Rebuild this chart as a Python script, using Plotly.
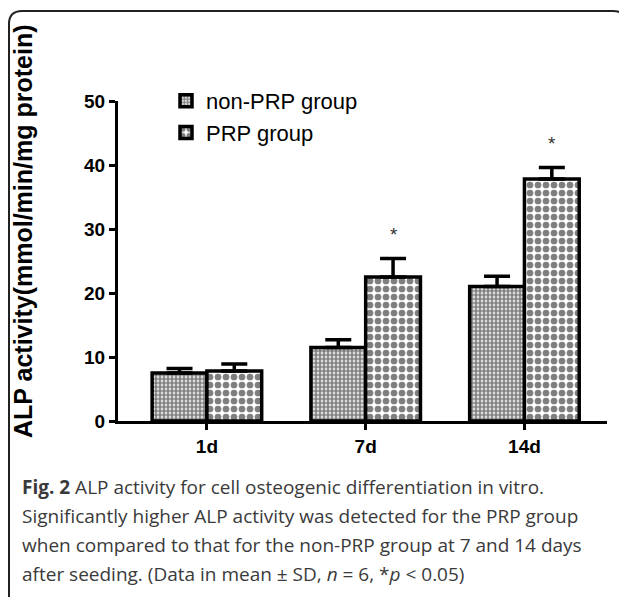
import plotly.graph_objects as go

categories = ["1d", "7d", "14d"]
non_prp_mean = [7.5, 11.5, 21.0]
non_prp_sd = [0.7, 1.2, 1.6]
prp_mean = [7.8, 22.5, 37.8]
prp_sd = [1.1, 2.9, 1.8]
significant = ["", "*", "*"]
y_ticks = [0, 10, 20, 30, 40, 50]
caption_lines = [
    "<b>Fig. 2</b> ALP activity for cell osteogenic differentiation in vitro.",
    "Significantly higher ALP activity was detected for the PRP group",
    "when compared to that for the non-PRP group at 7 and 14 days",
    "after seeding. (Data in mean ± SD, <i>n</i> = 6, *<i>p</i> &lt; 0.05)",
]

# page body has an 8px margin; work in window pixels and shift
OFF = 8
W, H = 627 - OFF, 597 - OFF
L, R, T, B = 118 - OFF, 607 - OFF, 101 - OFF, 421 - OFF


def px(xp):
    return (xp - OFF - L) / (R - L)


def py(yp):
    return (B - (yp - OFF)) / (B - T)


fig = go.Figure()
fig.add_trace(go.Bar(
    name="non-PRP group", x=categories, y=non_prp_mean,
    marker=dict(color="white", line=dict(color="black", width=3.5),
                pattern=dict(shape=".", size=4, solidity=0.7, fgcolor="black", bgcolor="white")),
    error_y=dict(type="data", array=non_prp_sd, arrayminus=[0] * 3, symmetric=False,
                 color="black", thickness=3.5, width=13),
))
fig.add_trace(go.Bar(
    name="PRP group", x=categories, y=prp_mean,
    marker=dict(color="white", line=dict(color="black", width=3.5),
                pattern=dict(shape=".", size=8, solidity=0.55, fgcolor="black", bgcolor="white")),
    error_y=dict(type="data", array=prp_sd, arrayminus=[0] * 3, symmetric=False,
                 color="black", thickness=3.5, width=13),
))

annotations = []
for i, s in enumerate(significant):
    if s:
        annotations.append(dict(x=categories[i], y=prp_mean[i] + prp_sd[i], text=s,
                                xref="x", yref="y", showarrow=False, xshift=28, yshift=24,
                                font=dict(size=19, color="#333", family="Liberation Sans")))

annotations.append(dict(x=px(23), y=py(232), xref="paper", yref="paper",
                        xanchor="center", yanchor="middle",
                        text="<b>ALP activity(mmol/min/mg protein)</b>", textangle=-90,
                        showarrow=False, font=dict(size=25, color="black", family="Liberation Sans")))

for j, line in enumerate(caption_lines):
    annotations.append(dict(x=px(20), y=py(487 + 29 * j), xref="paper", yref="paper",
                            xanchor="left", yanchor="middle", align="left", text=line, showarrow=False,
                            font=dict(size=19, color="#3a3a3a", family="Open Sans")))

frame = (f"M {px(9)},{py(605)} L {px(9)},{py(24)} Q {px(9)},{py(11)} {px(22)},{py(11)} "
         f"L {px(613)},{py(11)} Q {px(626)},{py(11)} {px(626)},{py(24)} L {px(626)},{py(605)}")

fig.update_layout(
    width=W, height=H,
    margin=dict(l=L, r=W - R, t=T, b=H - B),
    plot_bgcolor="white", paper_bgcolor="white",
    barmode="group", bargap=0.31, bargroupgap=0,
    showlegend=True,
    legend=dict(x=px(166), y=py(80), xanchor="left", yanchor="top",
                font=dict(size=22, family="Liberation Sans", color="black"),
                bgcolor="rgba(0,0,0,0)", tracegroupgap=2),
    xaxis=dict(range=[-0.56, 2.52], showline=True, linecolor="black", linewidth=3,
               ticks="outside", ticklen=6, tickwidth=3, tickcolor="black",
               tickfont=dict(size=19, family="Liberation Sans", color="black", weight="bold"),
               showgrid=False, zeroline=False),
    yaxis=dict(range=[0, 50], tickvals=y_ticks, showline=True, linecolor="black", linewidth=3,
               ticks="outside", ticklen=6, tickwidth=3, tickcolor="black",
               tickfont=dict(size=19, family="Liberation Sans", color="black", weight="bold"),
               showgrid=False, zeroline=False),
    annotations=annotations,
    shapes=[dict(type="path", path=frame, xref="paper", yref="paper",
                 line=dict(color="#222", width=2))],
)

fig.write_html("out.html")
